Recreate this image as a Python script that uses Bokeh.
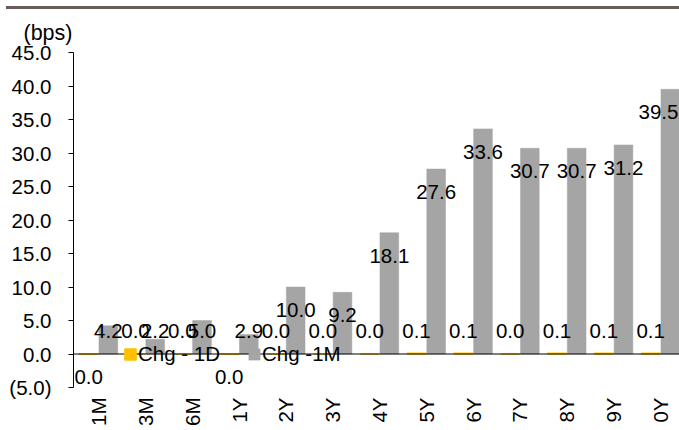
import numpy as np
from bokeh.plotting import figure
from bokeh.models import (ColumnDataSource, Range1d, FixedTicker, Span, Legend,
                          LegendItem, Div, Title)
from bokeh.layouts import column
from bokeh.embed import file_html
from bokeh.resources import INLINE
from bokeh.core.properties import value

# ---------------- data ----------------
categories = ["1M", "3M", "6M", "1Y", "2Y", "3Y", "4Y", "5Y", "6Y", "7Y", "8Y", "9Y", "0Y"]
chg_1d = [-0.02, 0.0, 0.0, -0.02, 0.0, 0.0, 0.0, 0.1, 0.1, 0.0, 0.1, 0.1, 0.1]
chg_1m = [4.2, 2.2, 5.0, 2.9, 10.0, 9.2, 18.1, 27.6, 33.6, 30.7, 30.7, 31.2, 39.5]
y_ticks = [-5, 0, 5, 10, 15, 20, 25, 30, 35, 40, 45]
series_names = ["Chg - 1D", "Chg -1M"]
unit_label = "(bps)"

# ---------------- styling ----------------
FONT = "Liberation Sans"
FS = "20.5px"
YELLOW = "#FFC000"
GRAY = "#A5A5A5"
BROWN = "#685C5A"

W, H = 679, 421
X_START, X_END = -0.534, 12.406
Y_START, Y_END = -5, 45
PX_PER_UNIT = 335 / 50.0
LABEL_SHIFT = 23 / PX_PER_UNIT
LABEL_MIN = 6.9

x = np.arange(len(categories), dtype=float)
d1 = np.array(chg_1d)
d2 = np.array(chg_1m)


def fmt(v):
    r = round(v, 1)
    if r < 0:
        return "({:.1f})".format(-r)
    return "{:.1f}".format(abs(r))


def label_y(v):
    return np.where(v >= 0, np.maximum(v, LABEL_MIN) - LABEL_SHIFT,
                    np.minimum(v, -LABEL_MIN) + LABEL_SHIFT)


src = ColumnDataSource(dict(
    x1=x - 0.21, x2=x + 0.21, d1=d1, d2=d2,
    l1y=label_y(d1), l2y=label_y(d2),
    l2x=np.minimum(x + 0.21, X_END - 0.45),
    t1=[fmt(v) for v in chg_1d], t2=[fmt(v) for v in chg_1m],
))

p = figure(width=W, height=H, output_backend="svg", toolbar_location=None,
           x_range=Range1d(X_START, X_END), y_range=Range1d(Y_START, Y_END),
           min_border_left=73, min_border_right=0, min_border_top=43,
           min_border_bottom=43)
p.outline_line_color = None
p.grid.visible = False
p.background_fill_color = "white"
p.border_fill_color = "white"

r1 = p.vbar(x="x1", top="d1", bottom=0, width=0.40, source=src,
            fill_color=YELLOW, line_color=YELLOW, line_width=1.5)
r2 = p.vbar(x="x2", top="d2", bottom=0, width=0.40, source=src,
            fill_color=GRAY, line_color=GRAY, line_width=0.5)

p.add_layout(Span(location=0, dimension="width", line_color="black", line_width=1))

p.text(x="x1", y="l1y", text="t1", source=src, text_font=value(FONT),
       text_font_size=FS, text_align="center", text_baseline="middle",
       text_color="black")
p.text(x="l2x", y="l2y", text="t2", source=src, text_font=value(FONT),
       text_font_size=FS, text_align="center", text_baseline="middle",
       text_color="black")

# y axis
ya = p.yaxis[0]
ya.ticker = FixedTicker(ticks=y_ticks)
ya.major_label_overrides = {t: fmt(float(t)) for t in y_ticks}
ya.minor_tick_line_color = None
ya.major_tick_in = 0
ya.major_tick_out = 5
ya.major_label_standoff = 17
ya.axis_line_color = "black"
ya.major_tick_line_color = "black"
ya.major_label_text_font = FONT
ya.major_label_text_font_size = FS
ya.major_label_text_color = "black"

# x axis
xa = p.xaxis[0]
xa.ticker = FixedTicker(ticks=list(range(len(categories))))
xa.major_label_overrides = {i: c for i, c in enumerate(categories)}
xa.major_label_orientation = np.pi / 2
xa.axis_line_color = None
xa.major_tick_line_color = None
xa.minor_tick_line_color = None
xa.major_tick_in = 0
xa.major_tick_out = 0
xa.major_label_standoff = 10
xa.major_label_text_font = FONT
xa.major_label_text_font_size = FS
xa.major_label_text_color = "black"

# unit label
p.title = Title(text=unit_label, align="left", offset=-50, text_font=FONT,
                text_font_size="21.5px", text_font_style="normal",
                text_color="black", standoff=14, vertical_align="middle")

legend = Legend(items=[LegendItem(label=series_names[0], renderers=[r1]),
                       LegendItem(label=series_names[1], renderers=[r2])],
                orientation="horizontal", location=(50, 21),
                label_text_font=FONT, label_text_font_size=FS,
                label_text_color="black", glyph_width=14, glyph_height=14,
                label_standoff=1, spacing=27, padding=0, margin=0,
                background_fill_alpha=0, border_line_alpha=0)
p.add_layout(legend)

bar = Div(text="", width=W - 6, height=3, margin=(6, 0, 0, 6),
          styles={"background-color": BROWN})

layout = column(bar, p, spacing=0)
open("out.html", "w").write(file_html(layout, INLINE))
